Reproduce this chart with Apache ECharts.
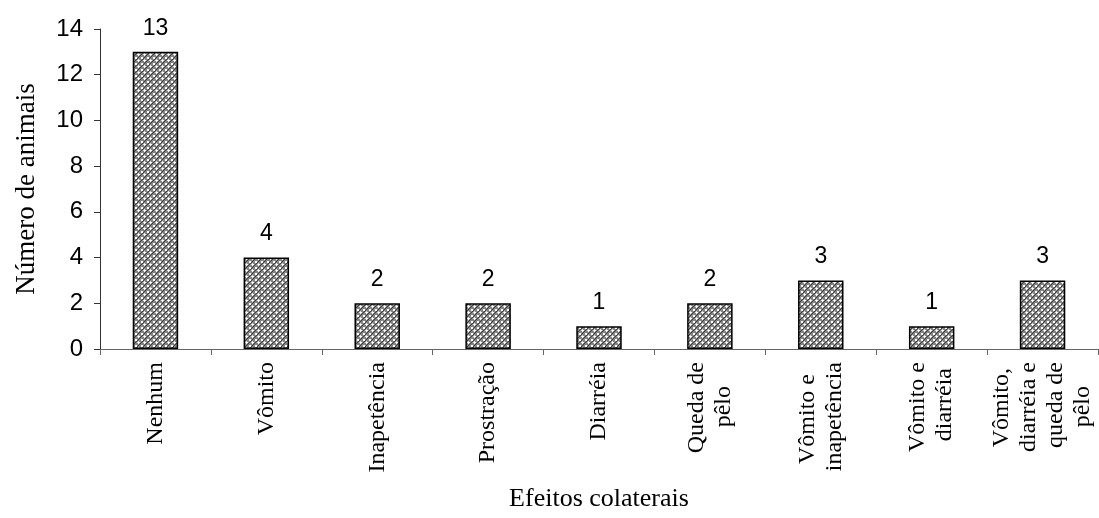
<!DOCTYPE html>
<html>
<head>
<meta charset="utf-8">
<script src="https://cdn.jsdelivr.net/npm/echarts@6/dist/echarts.min.js"></script>
<style>html,body{margin:0;padding:0;background:#fff;}#c{width:1099px;height:518px;}</style>
</head>
<body>
<div id="c"></div>
<script>
const categories = ['Nenhum', 'Vômito', 'Inapetência', 'Prostração', 'Diarréia', 'Queda de\npêlo', 'Vômito e\ninapetência', 'Vômito e\ndiarréia', 'Vômito,\ndiarréia e\nqueda de\npêlo'];
const values = [13, 4, 2, 2, 1, 2, 3, 1, 3];
const yTicks = { min: 0, max: 14, interval: 2 };
const xName = 'Efeitos colaterais';
const yName = 'Número de animais';

// crosshatch pattern tile
const tile = document.createElement('canvas');
tile.width = 6; tile.height = 6;
const g = tile.getContext('2d');
g.fillStyle = '#858585'; g.fillRect(0, 0, 6, 6);
g.fillStyle = '#3c3c3c';
g.fillRect(0, 3, 1, 1); g.fillRect(3, 0, 1, 1);
g.fillRect(1, 2, 1, 1); g.fillRect(2, 1, 1, 1); g.fillRect(4, 5, 1, 1); g.fillRect(5, 4, 1, 1);
g.fillStyle = '#ffffff';
g.fillRect(0, 0, 2, 1); g.fillRect(0, 0, 1, 2);
g.fillRect(3, 3, 2, 2);
g.fillStyle = '#dcdcdc';
g.fillRect(5, 0, 1, 1); g.fillRect(0, 5, 1, 1);

// multi-line labels: centre each line within its block using an invisible tail
const mctx = document.createElement('canvas').getContext('2d');
mctx.font = '24px "Liberation Serif"';
function measure(s) { const w = mctx.measureText(s).width; return w > 0 ? w : s.length * 10.5; }
const dotW = measure('.');
function labelFormatter(v) {
  if (v.indexOf('\n') < 0) return v;
  const lines = v.split('\n');
  const ws = lines.map(measure);
  const maxW = Math.max.apply(null, ws);
  return lines.map(function (l, i) {
    const n = Math.round((maxW - ws[i]) / 2 / dotW);
    return '{t|' + l + '}' + (n > 0 ? '{h|' + '.'.repeat(n) + '}' : '');
  }).join('\n');
}

const chart = echarts.init(document.getElementById('c'), null, { renderer: 'canvas' });
chart.setOption({
  animation: false,
  grid: { left: 100, right: 1, top: 29, bottom: 169, containLabel: false },
  xAxis: {
    type: 'category',
    data: categories,
    name: xName,
    nameLocation: 'middle',
    nameGap: 137,
    nameTextStyle: { fontFamily: 'Liberation Serif', fontSize: 26, color: '#000' },
    axisLine: { lineStyle: { color: '#666', width: 1 } },
    axisTick: { show: true, alignWithLabel: false, length: 6, lineStyle: { color: '#666' } },
    axisLabel: {
      rotate: 90,
      interval: 0,
      margin: 13,
      fontFamily: 'Liberation Serif',
      fontSize: 24,
      lineHeight: 27,
      color: '#000',
      formatter: labelFormatter,
      rich: {
        t: { fontFamily: 'Liberation Serif', fontSize: 24, lineHeight: 27, color: '#000' },
        h: { fontFamily: 'Liberation Serif', fontSize: 24, lineHeight: 27, color: 'rgba(0,0,0,0)' }
      }
    }
  },
  yAxis: {
    type: 'value',
    min: yTicks.min, max: yTicks.max, interval: yTicks.interval,
    name: yName,
    nameLocation: 'middle',
    nameGap: 60,
    nameTextStyle: { fontFamily: 'Liberation Serif', fontSize: 27, color: '#000' },
    axisLine: { show: true, lineStyle: { color: '#333', width: 1 } },
    axisTick: { show: true, length: 6, lineStyle: { color: '#333' } },
    splitLine: { show: false },
    axisLabel: { margin: 17, fontFamily: 'Liberation Sans', fontSize: 24, color: '#000' }
  },
  series: [{
    type: 'bar',
    data: values,
    barWidth: '41%',
    itemStyle: { color: { image: tile, repeat: 'repeat' }, borderColor: '#000', borderWidth: 1.5 },
    label: { show: true, position: 'top', distance: 12, fontFamily: 'Liberation Sans', fontSize: 23, color: '#000' }
  }]
});
</script>
</body>
</html>
